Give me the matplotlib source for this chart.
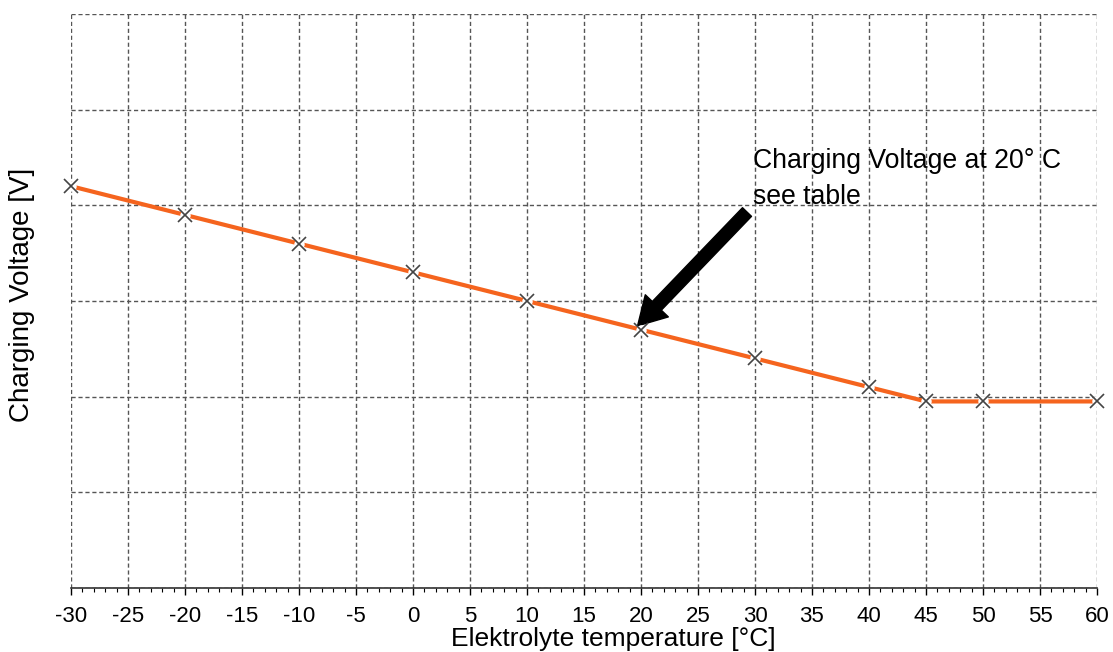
import matplotlib.pyplot as plt
from matplotlib.ticker import MultipleLocator

plt.rcParams['font.family'] = ['Liberation Sans', 'DejaVu Sans']

# temperature points and charging voltage (relative grid units, y axis unlabelled)
temps = [-30, -20, -10, 0, 10, 20, 30, 40, 45, 50, 60]
voltage = [4.2, 3.9, 3.6, 3.3, 3.0, 2.7, 2.4, 2.1, 1.95, 1.95, 1.95]
x_ticks = list(range(-30, 61, 5))

fig = plt.figure(figsize=(11.13, 6.52), dpi=100)
ax = fig.add_axes([0.0638, 0.0982, 0.9218, 0.8803])

ax.set_xlim(-30, 60)
ax.set_ylim(0, 6)
ax.set_xticks(x_ticks)
ax.set_xticklabels([str(t) for t in x_ticks])
ax.xaxis.set_minor_locator(MultipleLocator(1))
ax.set_yticks(range(0, 7))
ax.set_yticklabels([])
ax.tick_params(axis='y', length=0)
ax.tick_params(axis='x', which='major', direction='out', length=5, width=1, labelsize=16, pad=8)
ax.tick_params(axis='x', which='minor', direction='out', length=3, width=0.8)

ax.grid(True, which='major', color='#555555', linestyle=(0, (3, 2)), linewidth=1)
ax.set_axisbelow(True)
for side in ['top', 'right', 'left']:
    ax.spines[side].set_visible(False)
ax.spines['bottom'].set_color('#333333')
ax.spines['bottom'].set_linewidth(1.2)

ax.plot(temps, voltage, color='#F5641E', linewidth=3, zorder=3, clip_on=False)
ax.plot(temps, voltage, linestyle='none', marker='o', markersize=7.5,
        markerfacecolor='white', markeredgecolor='none', zorder=4, clip_on=False)
ax.plot(temps, voltage, linestyle='none', marker='x', markersize=9.5,
        markeredgecolor='#444444', markeredgewidth=1.2, zorder=5, clip_on=False)

ax.annotate('', xy=(19.7, 2.74), xytext=(29.3, 3.93),
            arrowprops=dict(facecolor='black', edgecolor='black', width=9,
                            headwidth=23, headlength=20, shrink=0))
ax.text(29.8, 4.6, 'Charging Voltage at 20° C\nsee table', fontsize=19.2,
        linespacing=1.5, va='top', ha='left')

ax.set_xlabel('Elektrolyte temperature [°C]', fontsize=19)
ax.xaxis.set_label_coords(0.529, -0.068)
ax.set_ylabel('Charging Voltage [V]', fontsize=20)
ax.yaxis.set_label_coords(-0.035, 0.511)

fig.savefig('out.png', dpi=100)
